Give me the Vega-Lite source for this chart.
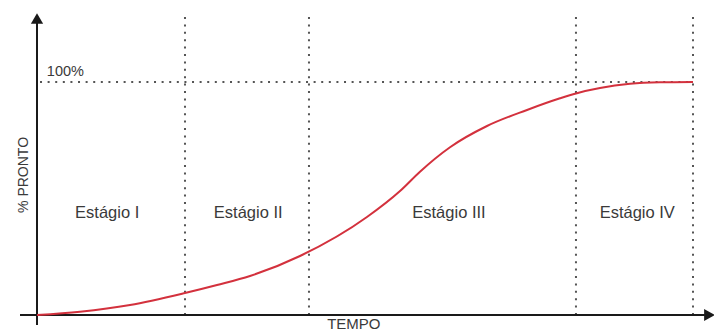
{
  "$schema": "https://vega.github.io/schema/vega-lite/v6.json",
  "width": 714,
  "height": 331,
  "padding": 0,
  "autosize": {"type": "none"},
  "background": "white",
  "config": {"view": {"stroke": null}},
  "datasets": {
    "curve": [
      {"t": 0, "p": 0}, {"t": 6.55, "p": 1.42}, {"t": 14.18, "p": 4.29},
      {"t": 22.56, "p": 9.44}, {"t": 27.44, "p": 12.88}, {"t": 32.47, "p": 16.74},
      {"t": 40.09, "p": 25.32}, {"t": 50.3, "p": 42.06}, {"t": 55.34, "p": 53.22},
      {"t": 58.38, "p": 61.5}, {"t": 62.96, "p": 72.0}, {"t": 68.6, "p": 81.12},
      {"t": 74.7, "p": 88.0}, {"t": 79.73, "p": 93.0}, {"t": 82.16, "p": 95.1},
      {"t": 85.82, "p": 97.4}, {"t": 90.4, "p": 99.2}, {"t": 94.97, "p": 99.85},
      {"t": 100, "p": 100}
    ],
    "bounds": [{"t": 22.56}, {"t": 41.46}, {"t": 82.16}, {"t": 100}],
    "axes": [
      {"t1": -2.59, "t2": 101.8, "p1": 0, "p2": 0},
      {"t1": 0, "t2": 0, "p1": -4.29, "p2": 126.6}
    ],
    "arrows": [
      {"t": 102.5, "p": 0, "shape": "triangle-right"},
      {"t": 0, "p": 127.25, "shape": "triangle-up"}
    ],
    "stages": [
      {"name": "Estágio I", "t": 10.7, "p": 43.8},
      {"name": "Estágio II", "t": 32.2, "p": 43.8},
      {"name": "Estágio III", "t": 62.8, "p": 43.8},
      {"name": "Estágio IV", "t": 91.5, "p": 43.8}
    ]
  },
  "layer": [
    {
      "data": {"name": "bounds"},
      "mark": {"type": "rule", "color": "#555555", "strokeWidth": 2, "strokeDash": [2, 5.4]},
      "encoding": {
        "x": {"field": "t", "type": "quantitative", "scale": {"domain": [-5.6402, 103.2012], "nice": false, "zero": false}, "axis": null},
        "y": {"datum": 0, "type": "quantitative", "scale": {"domain": [-6.867, 135.193], "nice": false, "zero": false}, "axis": null},
        "y2": {"datum": 129.2}
      }
    },
    {
      "data": {"values": [{"t1": 0.46, "t2": 100, "p": 100}]},
      "mark": {"type": "rule", "color": "#555555", "strokeWidth": 2, "strokeDash": [2, 5.6]},
      "encoding": {
        "x": {"field": "t1", "type": "quantitative"},
        "x2": {"field": "t2"},
        "y": {"field": "p", "type": "quantitative"}
      }
    },
    {
      "data": {"name": "axes"},
      "mark": {"type": "rule", "color": "#1a1a1a", "strokeWidth": 2},
      "encoding": {
        "x": {"field": "t1", "type": "quantitative"},
        "x2": {"field": "t2"},
        "y": {"field": "p1", "type": "quantitative"},
        "y2": {"field": "p2"}
      }
    },
    {
      "data": {"name": "arrows"},
      "mark": {"type": "point", "filled": true, "color": "#1a1a1a", "opacity": 1, "size": 150},
      "encoding": {
        "x": {"field": "t", "type": "quantitative"},
        "y": {"field": "p", "type": "quantitative"},
        "shape": {"field": "shape", "type": "nominal", "scale": null, "legend": null}
      }
    },
    {
      "data": {"name": "curve"},
      "mark": {"type": "line", "color": "#d3313d", "strokeWidth": 2, "interpolate": "monotone"},
      "encoding": {
        "x": {"field": "t", "type": "quantitative"},
        "y": {"field": "p", "type": "quantitative"}
      }
    },
    {
      "data": {"name": "stages"},
      "mark": {"type": "text", "font": "Liberation Sans", "fontSize": 16.5, "color": "#3a3a3a", "align": "center", "baseline": "middle"},
      "encoding": {
        "x": {"field": "t", "type": "quantitative"},
        "y": {"field": "p", "type": "quantitative"},
        "text": {"field": "name"}
      }
    },
    {
      "data": {"values": [{"label": "100%", "t": 1.5, "p": 104.3}]},
      "mark": {"type": "text", "font": "Liberation Sans", "fontSize": 14.5, "color": "#3a3a3a", "align": "left", "baseline": "middle"},
      "encoding": {
        "x": {"field": "t", "type": "quantitative"},
        "y": {"field": "p", "type": "quantitative"},
        "text": {"field": "label"}
      }
    },
    {
      "data": {"values": [{"label": "TEMPO", "t": 48.3, "p": -3.9}]},
      "mark": {"type": "text", "font": "Liberation Sans", "fontSize": 15, "color": "#3a3a3a", "align": "center", "baseline": "middle"},
      "encoding": {
        "x": {"field": "t", "type": "quantitative"},
        "y": {"field": "p", "type": "quantitative"},
        "text": {"field": "label"}
      }
    },
    {
      "data": {"values": [{"label": "% PRONTO", "t": -1.98, "p": 60.1}]},
      "mark": {"type": "text", "font": "Liberation Sans", "fontSize": 14, "color": "#3a3a3a", "align": "center", "baseline": "middle", "angle": 270},
      "encoding": {
        "x": {"field": "t", "type": "quantitative"},
        "y": {"field": "p", "type": "quantitative"},
        "text": {"field": "label"}
      }
    }
  ]
}
